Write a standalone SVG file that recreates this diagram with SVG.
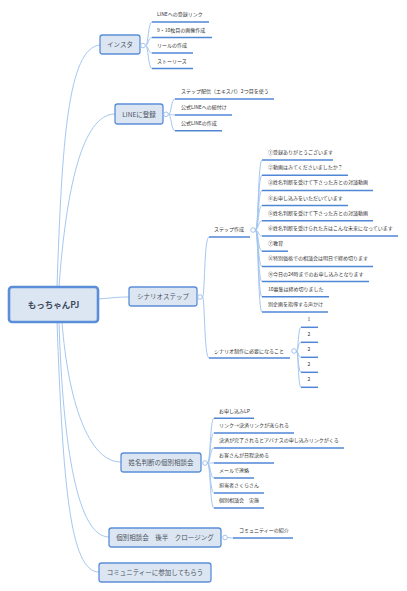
<svg xmlns="http://www.w3.org/2000/svg" width="407" height="591" viewBox="0 0 407 591">
<style>
.box{fill:#dce6f2;stroke:#5b8ed8;stroke-width:1.3}
.root{fill:#dce6f2;stroke:#5b8ed8;stroke-width:2.6}
.bt{font-family:"Noto Sans CJK JP","Noto Sans",sans-serif;font-size:6.5px;fill:#4a5260;text-anchor:middle}
.rt{font-family:"Noto Sans CJK JP","Noto Sans",sans-serif;font-size:8.5px;font-weight:bold;fill:#3e4a5e;text-anchor:middle}
.ct{font-family:"Noto Sans CJK JP","Noto Sans",sans-serif;font-size:5px;fill:#333}
.ul{stroke:#4f86d6;stroke-width:1.5;fill:none}
.con{stroke:#a6c7f0;stroke-width:1;fill:none}
.dot{fill:#fff;stroke:#8fb5e8;stroke-width:0.8}
</style>
<rect width="407" height="591" fill="#fff"/>
<g id="connectors">
<path class="con" d="M57,287 C62,140 68,48 100,45"/>
<path class="con" d="M59,287 C66,190 82,114 115,114"/>
<path class="con" d="M98,299 C112,298 116,297 129,297"/>
<path class="con" d="M62,322 C68,400 88,462 121,462"/>
<path class="con" d="M59,322 C63,450 78,537 109,537"/>
<path class="con" d="M57,322 C63,485 70,572 99,572"/>
<path class="con" d="M145.5,45.5 C148.5,45.5 148,22 152,22"/>
<path class="con" d="M145.5,45.5 C148.5,45.5 148,37.5 152,37.5"/>
<path class="con" d="M145.5,45.5 C148.5,45.5 148,53 152,53"/>
<path class="con" d="M145.5,45.5 C148.5,45.5 148,68.5 152,68.5"/>
<path class="con" d="M168.5,114.3 C171.5,114.3 171,99 175,99"/>
<path class="con" d="M168.5,114.3 C171.5,114.3 171,115 175,115"/>
<path class="con" d="M168.5,114.3 C171.5,114.3 171,130.7 175,130.7"/>
<path class="con" d="M202.5,297 C205,297 204,237 209,237"/>
<path class="con" d="M202.5,297 C205,297 204,358 209,358"/>
<path class="con" d="M255.5,230 C258.5,230 258,160 262,160"/>
<path class="con" d="M255.5,230 C258.5,230 258,175.2 262,175.2"/>
<path class="con" d="M255.5,230 C258.5,230 258,190.4 262,190.4"/>
<path class="con" d="M255.5,230 C258.5,230 258,205.6 262,205.6"/>
<path class="con" d="M255.5,230 C258.5,230 258,220.8 262,220.8"/>
<path class="con" d="M255.5,230 C258.5,230 258,236 262,236"/>
<path class="con" d="M255.5,230 C258.5,230 258,251.2 262,251.2"/>
<path class="con" d="M255.5,230 C258.5,230 258,266.4 262,266.4"/>
<path class="con" d="M255.5,230 C258.5,230 258,281.6 262,281.6"/>
<path class="con" d="M255.5,230 C258.5,230 258,296.8 262,296.8"/>
<path class="con" d="M255.5,230 C258.5,230 258,312 262,312"/>
<path class="con" d="M296.5,351 C298.5,351 298,327.3 301,327.3"/>
<path class="con" d="M296.5,351 C298.5,351 298,342.3 301,342.3"/>
<path class="con" d="M296.5,351 C298.5,351 298,357.3 301,357.3"/>
<path class="con" d="M296.5,351 C298.5,351 298,372.3 301,372.3"/>
<path class="con" d="M296.5,351 C298.5,351 298,387.3 301,387.3"/>
<path class="con" d="M207.5,463 C210.5,463 210,418.3 214,418.3"/>
<path class="con" d="M207.5,463 C210.5,463 210,433 214,433"/>
<path class="con" d="M207.5,463 C210.5,463 210,448 214,448"/>
<path class="con" d="M207.5,463 C210.5,463 210,463 214,463"/>
<path class="con" d="M207.5,463 C210.5,463 210,478 214,478"/>
<path class="con" d="M207.5,463 C210.5,463 210,493 214,493"/>
<path class="con" d="M207.5,463 C210.5,463 210,508 214,508"/>
<path class="con" d="M227.5,537.5 C230,537.5 230,538 233,538"/>
</g>
<g id="root">
<rect class="root" x="9" y="287" width="89" height="35" rx="3"/>
<text class="rt" x="53.5" y="307.5">もっちゃんPJ</text>
</g>
<g id="insta">
<rect class="box" x="100" y="35" width="40" height="19" rx="2.5"/>
<text class="bt" x="120" y="46.8">インスタ</text>
<circle class="dot" cx="143" cy="45.5" r="2.3"/>
</g>
<g id="insta-1"><text class="ct" x="157" y="16">LINEへの登録リンク</text><line class="ul" x1="152" y1="22" x2="209" y2="22"/></g>
<g id="insta-2"><text class="ct" x="157" y="31.5">9・10枚目の画像作成</text><line class="ul" x1="152" y1="37.5" x2="212" y2="37.5"/></g>
<g id="insta-3"><text class="ct" x="157" y="47">リールの作成</text><line class="ul" x1="152" y1="53" x2="193" y2="53"/></g>
<g id="insta-4"><text class="ct" x="157" y="62.5">ストーリーズ</text><line class="ul" x1="152" y1="68.5" x2="193" y2="68.5"/></g>
<g id="line">
<rect class="box" x="115" y="104" width="48" height="20" rx="2.5"/>
<text class="bt" x="139" y="116.5">LINEに登録</text>
<circle class="dot" cx="166" cy="114.3" r="2.3"/>
</g>
<g id="line-1"><text class="ct" x="181" y="93">ステップ配信（エキスパ）2つ目を使う</text><line class="ul" x1="175" y1="99" x2="274" y2="99"/></g>
<g id="line-2"><text class="ct" x="181" y="109">公式LINEへの紐付け</text><line class="ul" x1="175" y1="115" x2="232" y2="115"/></g>
<g id="line-3"><text class="ct" x="181" y="124.7">公式LINEの作成</text><line class="ul" x1="175" y1="130.7" x2="222" y2="130.7"/></g>
<g id="scenario">
<rect class="box" x="129" y="287" width="68" height="19" rx="2.5"/>
<text class="bt" x="163" y="298.8">シナリオステップ</text>
<circle class="dot" cx="200" cy="297" r="2.3"/>
</g>
<g id="step">
<text class="ct" x="214" y="231.3">ステップ作成</text>
<line class="ul" x1="209" y1="237" x2="250" y2="237"/>
<circle class="dot" cx="253" cy="230" r="2.3"/>
</g>
<g id="step-1"><text class="ct" x="268" y="154">①登録ありがとうございます</text><line class="ul" x1="262" y1="160" x2="333" y2="160"/></g>
<g id="step-2"><text class="ct" x="268" y="169.2">②動画はみてくださいましたか？</text><line class="ul" x1="262" y1="175.2" x2="348" y2="175.2"/></g>
<g id="step-3"><text class="ct" x="268" y="184.4">③姓名判断を受けて下さった方との対談動画</text><line class="ul" x1="262" y1="190.4" x2="373" y2="190.4"/></g>
<g id="step-4"><text class="ct" x="268" y="199.6">④お申し込みをいただいています</text><line class="ul" x1="262" y1="205.6" x2="348" y2="205.6"/></g>
<g id="step-5"><text class="ct" x="268" y="214.8">⑤姓名判断を受けて下さった方との対談動画</text><line class="ul" x1="262" y1="220.8" x2="373" y2="220.8"/></g>
<g id="step-6"><text class="ct" x="268" y="230">⑥姓名判断を受けられた方はこんな未来になっています</text><line class="ul" x1="262" y1="236" x2="398" y2="236"/></g>
<g id="step-7"><text class="ct" x="268" y="245.2">⑦教育</text><line class="ul" x1="262" y1="251.2" x2="288" y2="251.2"/></g>
<g id="step-8"><text class="ct" x="268" y="260.4">⑧特別価格での相談会は明日で締め切ります</text><line class="ul" x1="262" y1="266.4" x2="373" y2="266.4"/></g>
<g id="step-9"><text class="ct" x="268" y="275.6">⑨今日の24時までのお申し込みとなります</text><line class="ul" x1="262" y1="281.6" x2="369" y2="281.6"/></g>
<g id="step-10"><text class="ct" x="268" y="290.8">10募集は締め切りました</text><line class="ul" x1="262" y1="296.8" x2="329" y2="296.8"/></g>
<g id="step-11"><text class="ct" x="268" y="306">別企画を指導する声かけ</text><line class="ul" x1="262" y1="312" x2="328" y2="312"/></g>
<g id="need">
<text class="ct" x="214" y="352.8">シナリオ制作に必要になること</text>
<line class="ul" x1="209" y1="358" x2="290" y2="358"/>
<circle class="dot" cx="294" cy="351" r="2.3"/>
</g>
<g id="need-1"><text class="ct" x="307.5" y="321.3">1</text><line class="ul" x1="301" y1="327.3" x2="318" y2="327.3"/></g>
<g id="need-2"><text class="ct" x="307.5" y="336.3">2</text><line class="ul" x1="301" y1="342.3" x2="318" y2="342.3"/></g>
<g id="need-3"><text class="ct" x="307.5" y="351.3">2</text><line class="ul" x1="301" y1="357.3" x2="318" y2="357.3"/></g>
<g id="need-4"><text class="ct" x="307.5" y="366.3">2</text><line class="ul" x1="301" y1="372.3" x2="318" y2="372.3"/></g>
<g id="need-5"><text class="ct" x="307.5" y="381.3">2</text><line class="ul" x1="301" y1="387.3" x2="318" y2="387.3"/></g>
<g id="seimei">
<rect class="box" x="121" y="453" width="80" height="19" rx="2.5"/>
<text class="bt" x="161" y="464.8">姓名判断の個別相談会</text>
<circle class="dot" cx="205" cy="463" r="2.3"/>
</g>
<g id="seimei-1"><text class="ct" x="219" y="412.5">お申し込みLP</text><line class="ul" x1="214" y1="418.3" x2="254" y2="418.3"/></g>
<g id="seimei-2"><text class="ct" x="219" y="427">リンク→決済リンクが送られる</text><line class="ul" x1="214" y1="433" x2="294" y2="433"/></g>
<g id="seimei-3"><text class="ct" x="219" y="442">決済が完了されるとアバナスの申し込みリンクがくる</text><line class="ul" x1="214" y1="448" x2="344" y2="448"/></g>
<g id="seimei-4"><text class="ct" x="219" y="457">お客さんが日程決める</text><line class="ul" x1="214" y1="463" x2="274" y2="463"/></g>
<g id="seimei-5"><text class="ct" x="219" y="472">メールで連絡</text><line class="ul" x1="214" y1="478" x2="254" y2="478"/></g>
<g id="seimei-6"><text class="ct" x="219" y="487">担当者さくらさん</text><line class="ul" x1="214" y1="493" x2="264" y2="493"/></g>
<g id="seimei-7"><text class="ct" x="219" y="502">個別相談会　実施</text><line class="ul" x1="214" y1="508" x2="264" y2="508"/></g>
<g id="closing">
<rect class="box" x="109" y="528" width="112" height="19" rx="2.5"/>
<text class="bt" x="165" y="539.8">個別相談会　後半　クロージング</text>
<circle class="dot" cx="225" cy="537.5" r="2.3"/>
</g>
<g id="closing-1"><text class="ct" x="239" y="532">コミュニティーの紹介</text><line class="ul" x1="233" y1="538" x2="293" y2="538"/></g>
<g id="community">
<rect class="box" x="99" y="563" width="112" height="19" rx="2.5"/>
<text class="bt" x="155" y="574.8">コミュニティーに参加してもらう</text>
</g>
</svg>
